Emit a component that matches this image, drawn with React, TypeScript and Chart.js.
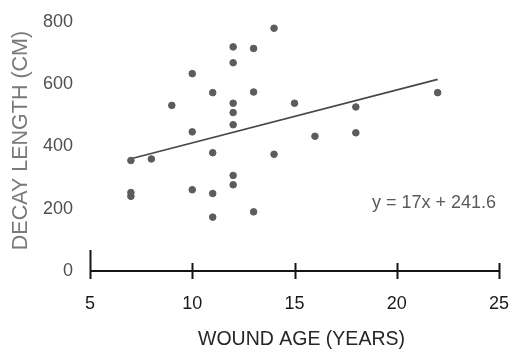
import React, { useEffect, useRef } from "react";
import { Chart, registerables } from "chart.js";

Chart.register(...registerables);

// Wound age (years) and decay length (cm) of each sampled tree
const woundAge = [7, 7, 7, 8, 9, 10, 10, 10, 11, 11, 11, 11, 12, 12, 12, 12, 12, 12, 12, 13, 13, 13, 14, 14, 15, 16, 18, 18, 22];
const decayLength = [355, 252, 240, 360, 532, 634, 447, 261, 573, 380, 249, 173, 720, 669, 539, 509, 470, 307, 277, 715, 575, 190, 780, 375, 539, 433, 527, 444, 573];

// Linear trend line end points (y = 17x + 241.6)
const trendX = [7, 22];
const trendY = [360.6, 615.6];
const equationText = "y = 17x + 241.6";

const xTitle = "WOUND AGE (YEARS)";
const yTitle = "DECAY LENGTH (CM)";

const xTicks = [5, 10, 15, 20, 25];
const yTicks = [0, 200, 400, 600, 800];

const FONT = "'Liberation Sans', Arial, sans-serif";

export default function App() {
  const ref = useRef<HTMLCanvasElement | null>(null);

  useEffect(() => {
    const canvas = ref.current;
    if (!canvas) return;

    const axisPlugin = {
      id: "axisTicks",
      afterDraw(chart: any) {
        const ctx = chart.ctx;
        const area = chart.chartArea;
        const xs = chart.scales.x;
        const ys = chart.scales.y;
        const y0 = ys.getPixelForValue(0);
        ctx.save();
        ctx.strokeStyle = "#151515";
        ctx.lineWidth = 2;
        ctx.beginPath();
        ctx.moveTo(xs.getPixelForValue(xTicks[0]), y0);
        ctx.lineTo(xs.getPixelForValue(xTicks[xTicks.length - 1]), y0);
        ctx.stroke();
        xTicks.forEach((v, i) => {
          const px = Math.round(xs.getPixelForValue(v)) + 0.5;
          ctx.beginPath();
          ctx.moveTo(px, y0 - (i === 0 ? 21 : 8));
          ctx.lineTo(px, y0 + 8);
          ctx.stroke();
        });
        // regression equation
        ctx.fillStyle = "#5a5a5a";
        ctx.font = `18px ${FONT}`;
        ctx.textAlign = "right";
        ctx.textBaseline = "middle";
        ctx.fillText(equationText, area.right - 3, ys.getPixelForValue(218));

        // x axis title
        ctx.fillStyle = "#262626";
        ctx.font = `19.5px ${FONT}`;
        ctx.textAlign = "center";
        ctx.fillText(xTitle, (area.left + area.right) / 2 + 7, xs.bottom - 12);

        // y axis title
        ctx.translate(21, (area.top + area.bottom) / 2 - 6);
        ctx.rotate(-Math.PI / 2);
        ctx.fillStyle = "#7a7a7a";
        ctx.font = `21.5px ${FONT}`;
        ctx.fillText(yTitle, 0, 0);
        ctx.restore();
      },
    };

    const chart = new Chart(canvas, {
      type: "scatter",
      data: {
        datasets: [
          {
            label: "Decay",
            data: woundAge.map((x, i) => ({ x, y: decayLength[i] })),
            backgroundColor: "#5c5c5c",
            borderColor: "#5c5c5c",
            pointRadius: 3.3,
            pointHoverRadius: 3.3,
          },
          {
            label: "Trend",
            type: "line",
            data: trendX.map((x, i) => ({ x, y: trendY[i] })),
            borderColor: "#474747",
            borderWidth: 1.6,
            pointRadius: 0,
            showLine: true,
            fill: false,
          } as any,
        ],
      },
      options: {
        responsive: false,
        animation: false,
        layout: { padding: { top: 22, right: 14, bottom: 0, left: 0 } },
        plugins: { legend: { display: false }, tooltip: { enabled: false } },
        scales: {
          x: {
            type: "linear",
            min: 5,
            max: 25,
            afterBuildTicks: (s: any) => {
              s.ticks = xTicks.map((v) => ({ value: v }));
            },
            grid: { display: false, drawTicks: true, tickLength: 22 },
            border: { display: false },
            ticks: {
              color: "#1a1a1a",
              font: { family: FONT, size: 18 },
              padding: 0,
              maxRotation: 0,
            },
            title: { display: false },
            afterFit: (s: any) => {
              s.height = 81;
            },
          },
          y: {
            type: "linear",
            min: 0,
            max: 800,
            afterBuildTicks: (s: any) => {
              s.ticks = yTicks.map((v) => ({ value: v }));
            },
            grid: { display: false, drawTicks: true, tickLength: 17 },
            border: { display: false },
            ticks: {
              color: "#505050",
              font: { family: FONT, size: 18 },
              padding: 0,
            },
            title: { display: false },
            afterFit: (s: any) => {
              s.width = 90;
            },
          },
        },
      },
      plugins: [axisPlugin],
    });

    return () => chart.destroy();
  }, []);

  return (
    <div style={{ position: "absolute", left: 0, top: 0, width: 513, height: 352, background: "#fff" }}>
      <canvas ref={ref} width={513} height={352} />
    </div>
  );
}
